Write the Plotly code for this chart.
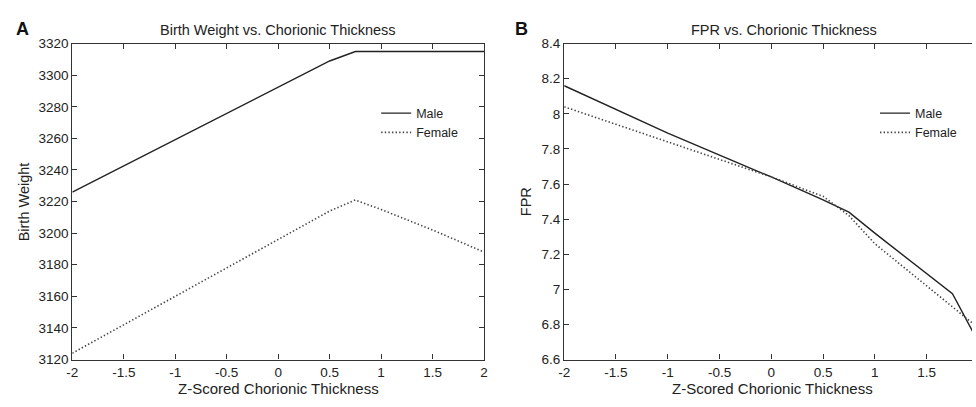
import plotly.graph_objects as go

# ---- data ----
bw_x = [-2, -1, 0, 0.5, 0.75, 1, 1.5, 2]
bw_male = [3226, 3259, 3292, 3309, 3315, 3315, 3315, 3315]
bw_female_x = [-2, -1, 0, 0.5, 0.75, 1, 1.5, 2]
bw_female = [3124, 3160, 3196, 3214, 3221, 3215, 3202, 3188]

fpr_x = [-2, -1, 0, 0.5, 0.75, 1, 1.75, 2]
fpr_male = [8.16, 7.89, 7.64, 7.51, 7.44, 7.32, 6.975, 6.70]
fpr_female = [8.04, 7.84, 7.64, 7.53, 7.42, 7.26, 6.90, 6.78]

x_ticks = [-2, -1.5, -1, -0.5, 0, 0.5, 1, 1.5, 2]
x_ticktext = ["-2", "-1.5", "-1", "-0.5", "0", "0.5", "1", "1.5", "2"]
bw_ticks = [3120, 3140, 3160, 3180, 3200, 3220, 3240, 3260, 3280, 3300, 3320]
fpr_ticks = [6.6, 6.8, 7.0, 7.2, 7.4, 7.6, 7.8, 8.0, 8.2, 8.4]
fpr_ticktext = ["6.6", "6.8", "7", "7.2", "7.4", "7.6", "7.8", "8", "8.2", "8.4"]

W, H = 976, 407
FONT = "Liberation Sans, Arial, sans-serif"
TXT = "#222222"
AX = "#333333"

male_style = dict(color="#222222", width=1.4)
female_style = dict(color="#444444", width=1.6, dash="1.4px,2.2px")

fig = go.Figure()
fig.add_trace(go.Scatter(x=bw_x, y=bw_male, mode="lines", name="Male",
                         line=male_style, xaxis="x", yaxis="y", legend="legend"))
fig.add_trace(go.Scatter(x=bw_female_x, y=bw_female, mode="lines", name="Female",
                         line=female_style, xaxis="x", yaxis="y", legend="legend"))
fig.add_trace(go.Scatter(x=fpr_x, y=fpr_male, mode="lines", name="Male",
                         line=male_style, xaxis="x2", yaxis="y2", legend="legend2"))
fig.add_trace(go.Scatter(x=fpr_x, y=fpr_female, mode="lines", name="Female",
                         line=female_style, xaxis="x2", yaxis="y2", legend="legend2"))

ydom = [1 - 366 / H, 1 - 38 / H]
axcommon = dict(showgrid=False, zeroline=False, showline=True, linecolor=AX,
                linewidth=1.3, ticks="inside", ticklen=5, tickcolor=AX,
                tickwidth=1.2, tickfont=dict(family=FONT, size=13.5, color=TXT))

fig.update_layout(
    width=W, height=H,
    margin=dict(l=0, r=0, t=0, b=0),
    paper_bgcolor="white", plot_bgcolor="white",
    font=dict(family=FONT, size=12, color=TXT),
    xaxis=dict(domain=[67 / W, 483 / W], range=[-2, 2], tickvals=x_ticks,
               ticktext=x_ticktext, mirror="ticks", anchor="y", **axcommon),
    yaxis=dict(domain=ydom, range=[3120, 3320], tickvals=bw_ticks,
               mirror="ticks", anchor="x", **axcommon),
    xaxis2=dict(domain=[564 / W, 1.0], range=[-2, -2 + 412 / 104.6],
                tickvals=x_ticks, ticktext=x_ticktext, mirror="ticks",
                anchor="y2", **axcommon),
    yaxis2=dict(domain=ydom, range=[6.6, 8.4], tickvals=fpr_ticks,
                ticktext=fpr_ticktext, anchor="x2", **axcommon),
    legend=dict(x=374 / W, y=1 - 95 / H, xanchor="left", yanchor="top",
                bgcolor="rgba(0,0,0,0)", font=dict(family=FONT, size=12.5, color=TXT),
                itemwidth=30, tracegroupgap=0),
    legend2=dict(x=878 / W, y=1 - 95 / H, xanchor="left", yanchor="top",
                 bgcolor="rgba(0,0,0,0)", font=dict(family=FONT, size=12.5, color=TXT),
                 itemwidth=30, tracegroupgap=0),
)

ann = [
    dict(text="<b>A</b>", x=17 / W, y=1 - 23 / H, size=18, anchor="middle"),
    dict(text="<b>B</b>", x=521 / W, y=1 - 23 / H, size=18, anchor="middle"),
    dict(text="Birth Weight vs. Chorionic Thickness", x=275 / W, y=1 - 24 / H, size=14.5, anchor="middle"),
    dict(text="FPR vs. Chorionic Thickness", x=786 / W, y=1 - 24 / H, size=14.5, anchor="middle"),
    dict(text="Z-Scored Chorionic Thickness", x=275 / W, y=0, size=15, anchor="bottom"),
    dict(text="Z-Scored Chorionic Thickness", x=774 / W, y=0, size=15, anchor="bottom"),
]
for a in ann:
    fig.add_annotation(text=a["text"], x=a["x"], y=a["y"], xref="paper", yref="paper",
                       xanchor="center", yanchor=a["anchor"], showarrow=False,
                       font=dict(family=FONT, size=a["size"], color="#111111" if "<b>" in a["text"] else TXT))
fig.add_annotation(text="Birth Weight", x=18 / W, y=1 - 202 / H, xref="paper", yref="paper",
                   textangle=-90, showarrow=False, xanchor="center", yanchor="middle",
                   font=dict(family=FONT, size=14.5, color=TXT))
fig.add_annotation(text="FPR", x=525 / W, y=1 - 202 / H, xref="paper", yref="paper",
                   textangle=-90, showarrow=False, xanchor="center", yanchor="middle",
                   font=dict(family=FONT, size=14.5, color=TXT))

fig.write_html(
    "out.html",
    config={"displayModeBar": False},
    post_script="document.body.style.margin='0';document.body.style.overflow='hidden';",
)
